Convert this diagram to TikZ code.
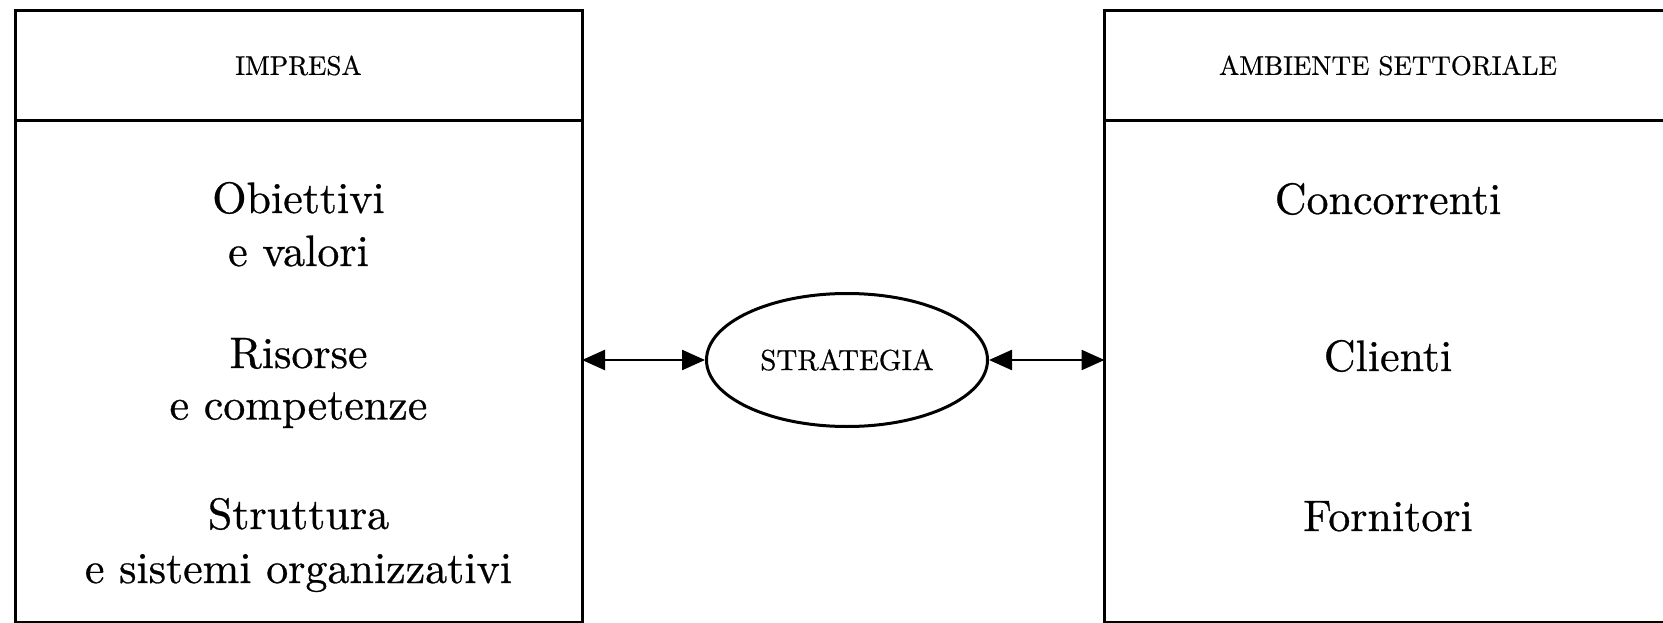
\documentclass[tikz,border=0pt]{standalone}
\usepackage{fontspec}
\setmainfont{lmroman10-regular.otf}[FakeBold=0.6]
\usepackage{tikz}
\usetikzlibrary{positioning,shapes.geometric,arrows.meta}

\begin{document}
\begin{tikzpicture}[x=1pt,y=-1pt,
		headbox/.style={rectangle,draw,line width=3pt,minimum width=567pt,minimum height=110pt,
		inner sep=0pt,outer sep=0pt,font=\fontsize{27}{32}\selectfont},
		bodybox/.style={rectangle,draw,line width=3pt,minimum width=567pt,minimum height=502pt,
		inner sep=0pt,outer sep=0pt},
		item/.style={font=\fontsize{44}{50}\selectfont,inner sep=0pt,anchor=base},
		link/.style={{Triangle[length=23pt,width=20pt]}-{Triangle[length=23pt,width=20pt]},line width=2.4pt}
		]
		\useasboundingbox (0,0) rectangle (1663,623);
		\clip (0,0) rectangle (1663,623);

		% impresa
		\node[headbox](I0) at (298.5,65.5){IMPRESA};
		\node[bodybox, below = 0pt of I0](I1){};
		\node[item] (I2) at (298.5,213){Obiettivi};
		\node[item] (I3) at (298.5,266){e valori};
		\node[item] (I4) at (298.5,368){Risorse};
		\node[item] (I5) at (298.5,419.5){e competenze};
		\node[item] (I6) at (298.5,529){Struttura};
		\node[item] (I7) at (298.5,583){e sistemi organizzativi};

		% ambiente
		\node[headbox](A0) at (1388,65.5){AMBIENTE SETTORIALE};
		\node[bodybox, below = 0pt of A0](A1){};
		\node[item] (A2) at (1388,214){Concorrenti};
		\node[item] (A3) at (1388,371){Clienti};
		\node[item] (A4) at (1388,531){Fornitori};

		% strategia
		\node[ellipse,draw,line width=3pt,minimum width=281pt,minimum height=133pt,
		font=\fontsize{29}{34}\selectfont](S0) at (847,360){STRATEGIA};
		\draw[link] (I1.east |- S0.west) -- (S0.west);
		\draw[link] (S0.east) -- (A1.west |- S0.east);
	\end{tikzpicture}
\end{document}
